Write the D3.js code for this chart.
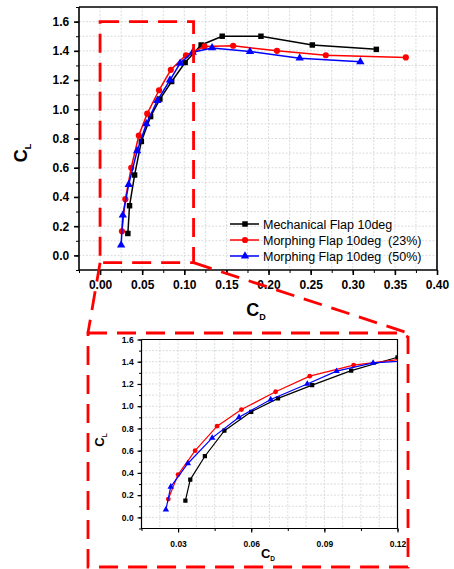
<!DOCTYPE html>
<html>
<head>
<meta charset="utf-8">
<script src="https://d3js.org/d3.v7.min.js"></script>
<style>
   body { margin: 0; background: #fff; }
   svg text { font-family: "Liberation Sans", Arial, sans-serif; }
</style>
</head>
<body>
<svg id="chart" width="454" height="569"></svg>
<script>
// DATA
var seriesNames = ['Mechanical Flap 10deg', 'Morphing Flap 10deg  (23%)', 'Morphing Flap 10deg  (50%)'];
var mechCd = [0.033, 0.035, 0.041, 0.049, 0.060, 0.071, 0.085, 0.101, 0.120, 0.145, 0.191, 0.252, 0.328];
var mechCl = [0.15, 0.34, 0.55, 0.78, 0.95, 1.07, 1.19, 1.32, 1.44, 1.50, 1.50, 1.44, 1.41];
var morph23Cd = [0.026, 0.030, 0.037, 0.046, 0.056, 0.070, 0.084, 0.102, 0.124, 0.158, 0.210, 0.268, 0.363];
var morph23Cl = [0.165, 0.385, 0.60, 0.82, 0.97, 1.13, 1.27, 1.37, 1.43, 1.435, 1.40, 1.37, 1.355];
var morph50Cd = [0.025, 0.027, 0.034, 0.044, 0.055, 0.068, 0.083, 0.095, 0.110, 0.133, 0.178, 0.237, 0.309];
var morph50Cl = [0.07, 0.275, 0.485, 0.715, 0.90, 1.06, 1.20, 1.315, 1.39, 1.42, 1.395, 1.35, 1.325];

var mainXTicks = [0, 0.05, 0.10, 0.15, 0.20, 0.25, 0.30, 0.35, 0.40];
var mainYTicks = [0, 0.2, 0.4, 0.6, 0.8, 1.0, 1.2, 1.4, 1.6];
var insetXTicks = [0.03, 0.06, 0.09, 0.12];
var insetYTicks = [0, 0.2, 0.4, 0.6, 0.8, 1.0, 1.2, 1.4, 1.6];

var colors = ['#000000', '#ff0000', '#0000ff'];
var symbols = [d3.symbolSquare, d3.symbolCircle, d3.symbolTriangle];

var series = [
   {name: seriesNames[0], cd: mechCd, cl: mechCl},
   {name: seriesNames[1], cd: morph23Cd, cl: morph23Cl},
   {name: seriesNames[2], cd: morph50Cd, cl: morph50Cl}
].map(function (s, i) {
   s.color = colors[i];
   s.symbol = symbols[i];
   s.points = s.cd.map(function (v, j) { return [v, s.cl[j]]; });
   return s;
});

var svg = d3.select('#chart');

function range(start, stop, step) {
   var out = [];
   for (var v = start; v <= stop + step / 1000; v += step) out.push(+v.toFixed(5));
   return out;
}

function drawPanel(opts) {
   var g = svg.append('g');
   var x = d3.scaleLinear().domain(opts.xDomain).range([opts.left, opts.right]);
   var y = d3.scaleLinear().domain(opts.yDomain).range([opts.bottom, opts.top]);

   var clipId = 'clip-' + opts.id;
   svg.append('clipPath').attr('id', clipId)
      .append('rect')
      .attr('x', opts.left).attr('y', opts.top)
      .attr('width', opts.right - opts.left).attr('height', opts.bottom - opts.top);

   // grid
   var grid = g.append('g').attr('stroke', '#cfd3d6').attr('stroke-width', 0.8)
      .attr('stroke-dasharray', '2,1.5');
   grid.selectAll('.vg').data(opts.xGrid).enter().append('line')
      .attr('x1', x).attr('x2', x).attr('y1', opts.top).attr('y2', opts.bottom);
   grid.selectAll('.hg').data(opts.yGrid).enter().append('line')
      .attr('y1', y).attr('y2', y).attr('x1', opts.left).attr('x2', opts.right);

   // frame top/right
   g.append('path')
      .attr('d', 'M' + opts.left + ',' + opts.top + 'H' + opts.right + 'V' + opts.bottom)
      .attr('fill', 'none').attr('stroke', '#000').attr('stroke-width', opts.frameW);

   // minor ticks
   g.append('g').attr('transform', 'translate(0,' + opts.bottom + ')')
      .call(d3.axisBottom(x).tickValues(opts.xMinor).tickSize(opts.minorLen).tickFormat(''))
      .call(function (a) { a.select('.domain').remove(); });
   g.append('g').attr('transform', 'translate(' + opts.left + ',0)')
      .call(d3.axisLeft(y).tickValues(opts.yMinor).tickSize(opts.minorLen).tickFormat(''))
      .call(function (a) { a.select('.domain').remove(); });

   // major axes
   var xa = g.append('g').attr('transform', 'translate(0,' + opts.bottom + ')')
      .call(d3.axisBottom(x).tickValues(opts.xTicks).tickSize(opts.majorLen).tickSizeOuter(0)
         .tickFormat(d3.format('.2f')));
   var ya = g.append('g').attr('transform', 'translate(' + opts.left + ',0)')
      .call(d3.axisLeft(y).tickValues(opts.yTicks).tickSize(opts.majorLen).tickSizeOuter(0)
         .tickFormat(d3.format('.1f')));
   [xa, ya].forEach(function (a) {
      a.selectAll('path, line').attr('stroke-width', opts.frameW);
      a.selectAll('text').attr('font-family', '"Liberation Sans", Arial, sans-serif')
         .attr('font-weight', 'bold').attr('font-size', opts.tickFont).attr('fill', '#000');
   });
   xa.select('.domain').attr('d', 'M' + opts.left + ',0H' + opts.right);
   ya.select('.domain').attr('d', 'M0,' + opts.top + 'V' + (opts.bottom + opts.frameW / 2));
   xa.selectAll('text').attr('dy', opts.xLabelDy);
   ya.selectAll('text').attr('dx', opts.yLabelDx);
   g.selectAll('.tick line').attr('stroke', '#000');

   // series
   var plot = g.append('g').attr('clip-path', 'url(#' + clipId + ')');
   var line = d3.line().x(function (d) { return x(d[0]); }).y(function (d) { return y(d[1]); });
   series.forEach(function (s) {
      plot.append('path').datum(s.points)
         .attr('d', line).attr('fill', 'none')
         .attr('stroke', s.color).attr('stroke-width', opts.lineW);
      plot.selectAll(null).data(s.points).enter().append('path')
         .attr('transform', function (d) { return 'translate(' + x(d[0]) + ',' + y(d[1]) + ')'; })
         .attr('d', d3.symbol().type(s.symbol).size(opts.markerSize))
         .attr('fill', s.color);
   });

   // axis titles
   var yt = g.append('text')
      .attr('transform', 'translate(' + opts.yTitle[0] + ',' + opts.yTitle[1] + ') rotate(-90)')
      .attr('text-anchor', 'middle').attr('font-weight', 'bold').attr('font-size', opts.titleFont);
   yt.append('tspan').text('C');
   yt.append('tspan').attr('font-size', opts.titleFont * 0.5).attr('dy', opts.titleFont * 0.2).text('L');
   var xt = g.append('text')
      .attr('x', opts.xTitle[0]).attr('y', opts.xTitle[1])
      .attr('text-anchor', 'middle').attr('font-weight', 'bold').attr('font-size', opts.titleFont);
   xt.append('tspan').text('C');
   xt.append('tspan').attr('font-size', opts.titleFont * 0.5).attr('dy', opts.titleFont * 0.2).text('D');

   return {x: x, y: y};
}

// main chart
var main = drawPanel({
   id: 'main', left: 79, right: 437, top: 7, bottom: 270,
   xDomain: [-0.025, 0.4], yDomain: [-0.1, 1.7],
   xTicks: mainXTicks, yTicks: mainYTicks,
   xMinor: range(-0.025, 0.4, 0.025), yMinor: range(-0.1, 1.7, 0.1),
   xGrid: range(0, 0.375, 0.025), yGrid: range(0, 1.6, 0.1),
   majorLen: 5, minorLen: 3, frameW: 1.6, lineW: 1.5, markerSize: 30,
   tickFont: 12, xLabelDy: '0.95em', yLabelDx: '-0.15em',
   titleFont: 18, yTitle: [27, 153], xTitle: [256, 316]
});

// legend
var legend = svg.append('g').attr('transform', 'translate(230,224)');
series.forEach(function (s, i) {
   var row = legend.append('g').attr('transform', 'translate(0,' + i * 16 + ')');
   row.append('line').attr('x1', 0).attr('x2', 29).attr('stroke', s.color).attr('stroke-width', 1.5);
   row.append('path').attr('transform', 'translate(15,0)')
      .attr('d', d3.symbol().type(s.symbol).size(30)).attr('fill', s.color);
   row.append('text').attr('x', 33).attr('dy', '0.36em')
      .attr('font-size', 12.5).style('white-space', 'pre').text(s.name);
});

// inset chart
var inset = drawPanel({
   id: 'inset', left: 141.5, right: 397.5, top: 339.5, bottom: 528.5,
   xDomain: [0.015, 0.12], yDomain: [-0.1, 1.6],
   xTicks: insetXTicks, yTicks: insetYTicks,
   xMinor: range(0.015, 0.12, 0.015), yMinor: range(-0.1, 1.6, 0.1),
   xGrid: range(0.0225, 0.12, 0.0075), yGrid: range(0, 1.6, 0.1),
   majorLen: 4, minorLen: 2.5, frameW: 1.2, lineW: 1.2, markerSize: 18,
   tickFont: 8.5, xLabelDy: '1.3em', yLabelDx: '-0.1em',
   titleFont: 13, yTitle: [104, 440], xTitle: [268, 558]
});

// red dashed zoom box and callout
var red = svg.append('g').attr('fill', 'none').attr('stroke', '#ff0000')
   .attr('stroke-width', 2.8).attr('stroke-dasharray', '19,10');
var bx0 = main.x(0), bx1 = main.x(0.111), by0 = main.y(1.6), by1 = main.y(-0.05);
red.append('rect').attr('x', bx0).attr('y', by0).attr('width', bx1 - bx0).attr('height', by1 - by0);
var cl = 88, ct = 333, cr = 408, cb = 567;
red.append('path').attr('d', 'M' + cl + ',' + ct + 'H' + (cr - 7) + 'L' + cr + ',' + (ct + 4) + 'V' + cb + 'H' + cl + 'Z');
red.append('line').attr('x1', bx0).attr('y1', by1).attr('x2', cl).attr('y2', ct);
red.append('line').attr('x1', bx1).attr('y1', by1).attr('x2', cr).attr('y2', ct);
</script>
</body>
</html>
